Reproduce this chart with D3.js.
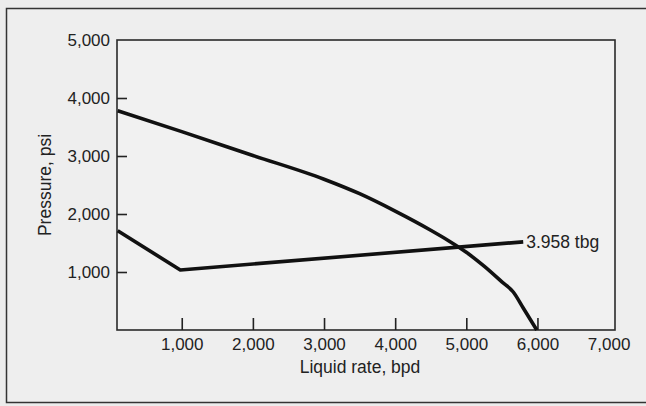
<!DOCTYPE html>
<html>
<head>
<meta charset="utf-8">
<script src="https://cdn.jsdelivr.net/npm/d3@7"></script>
<style>
  html, body { margin: 0; padding: 0; background: #ececec; }
  svg { display: block; }
  .axis text { font-family: 'Liberation Sans', Arial, sans-serif; font-size: 17px; fill: #222; }
</style>
</head>
<body>
<figure id="chart" style="margin:0"></figure>
<script>
// liquid rate (bpd) vs pressure (psi)
const iprRate = [100, 1000, 2000, 3000, 3500, 4000, 4500, 4750, 5000, 5250, 5500, 5660, 5800, 5990];
const iprPressure = [3780, 3420, 3010, 2600, 2350, 2050, 1720, 1540, 1340, 1100, 830, 655, 380, 0];

const tbgRate = [100, 980, 5800];
const tbgPressure = [1710, 1035, 1520];
const tbgLabel = '3.958 tbg';

const xTicks = [1000, 2000, 3000, 4000, 5000, 6000, 7000];
const yTicks = [1000, 2000, 3000, 4000, 5000];
const xTitle = 'Liquid rate, bpd';
const yTitle = 'Pressure, psi';

const width = 646;
const height = 406;
const margin = { top: 40, right: 31, bottom: 76, left: 117 };

const svg = d3.select('figure#chart')
  .append('svg')
  .attr('width', width)
  .attr('height', height)
  .attr('font-family', "'Liberation Sans', Arial, sans-serif");

// outer box (right edge runs off the page)
svg.append('rect')
  .attr('x', 6.5).attr('y', 8.5)
  .attr('width', 700).attr('height', 394)
  .attr('fill', '#eeeeee')
  .attr('stroke', '#333')
  .attr('stroke-width', 1.5);

const x = d3.scaleLinear().domain([90, 7090]).range([margin.left, width - margin.right]);
const y = d3.scaleLinear().domain([0, 5000]).range([height - margin.bottom, margin.top]);

// plot frame
svg.append('rect')
  .attr('x', x(90)).attr('y', y(5000))
  .attr('width', x(7090) - x(90)).attr('height', y(0) - y(5000))
  .attr('fill', '#f1f1f1')
  .attr('stroke', '#2a2a2a')
  .attr('stroke-width', 1.6);

const fmt = d3.format(',');

const gx = svg.append('g')
  .attr('class', 'axis')
  .attr('transform', `translate(0,${ y(0) })`)
  .call(d3.axisBottom(x).tickValues(xTicks).tickFormat(fmt).tickSize(-12).tickPadding(8));
gx.select('.domain').remove();
gx.selectAll('.tick line').attr('stroke', '#222').attr('stroke-width', 1.6)
  .filter(d => d === 7000).remove();

const gy = svg.append('g')
  .attr('class', 'axis')
  .attr('transform', `translate(${ x(90) },0)`)
  .call(d3.axisLeft(y).tickValues(yTicks).tickFormat(fmt).tickSize(-10).tickPadding(7));
gy.select('.domain').remove();
gy.selectAll('.tick line').attr('stroke', '#222').attr('stroke-width', 1.6)
  .filter(d => d === 5000).remove();

svg.append('text')
  .attr('x', 360).attr('y', 373)
  .attr('text-anchor', 'middle')
  .attr('font-size', 17.5)
  .attr('fill', '#222')
  .text(xTitle);

svg.append('text')
  .attr('transform', `translate(51,${ (y(0) + y(5000)) / 2 }) rotate(-90)`)
  .attr('text-anchor', 'middle')
  .attr('font-size', 17.5)
  .attr('fill', '#222')
  .text(yTitle);

const line = d3.line()
  .x(d => x(d[0]))
  .y(d => y(d[1]));

const lines = svg.append('g')
  .attr('fill', 'none')
  .attr('stroke', '#111')
  .attr('stroke-width', 3.6)
  .attr('stroke-linejoin', 'round');

lines.append('path').attr('d', line.curve(d3.curveMonotoneX)(d3.zip(iprRate, iprPressure)));
lines.append('path').attr('d', line.curve(d3.curveLinear)(d3.zip(tbgRate, tbgPressure)));

svg.append('text')
  .attr('x', x(tbgRate[2]) + 3)
  .attr('y', y(tbgPressure[2]))
  .attr('dy', '0.35em')
  .attr('font-size', 17.5)
  .attr('fill', '#222')
  .text(tbgLabel);
</script>
</body>
</html>
